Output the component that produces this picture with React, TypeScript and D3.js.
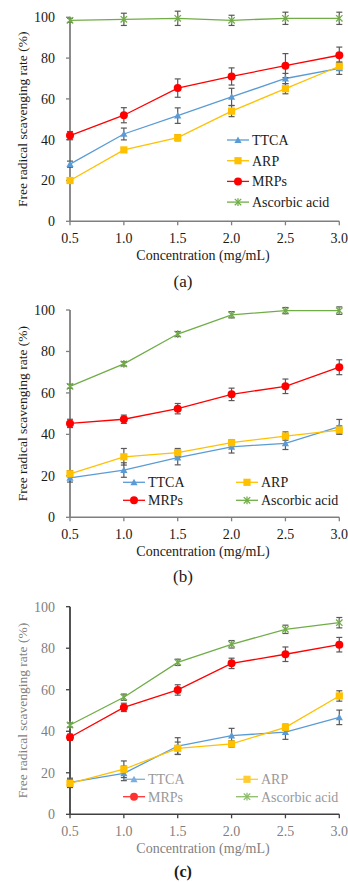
import React from "react";
import * as d3 from "d3";

const concentrations = [0.5, 1.0, 1.5, 2.0, 2.5, 3.0];
const xTickLabels = ["0.5", "1.0", "1.5", "2.0", "2.5", "3.0"];
const yTicks = [0, 20, 40, 60, 80, 100];
const seriesNames = ["TTCA", "ARP", "MRPs", "Ascorbic acid"];
const panelCaptions = ["(a)", "(b)", "(c)"];
const xTitle = "Concentration (mg/mL)";
const yTitle = "Free radical scavenging rate (%)";

// Panel (a)
const aTTCA = [28, 42.8, 51.8, 61, 70, 75];
const aTTCAErr = [1.5, 2.9, 3.8, 4.2, 2.5, 3];
const aARP = [20, 35, 41, 54, 65, 76];
const aARPErr = [1, 1, 1.5, 2.7, 2.5, 2];
const aMRPs = [42, 52, 65.3, 71, 76.3, 81.4];
const aMRPsErr = [2, 3.7, 4.5, 4.2, 5.9, 4];
const aAA = [98.5, 99, 99.5, 98.5, 99.5, 99.5];
const aAAErr = [1, 3, 3.5, 2.5, 3, 3];

// Panel (b)
const bTTCA = [19, 22.8, 28.8, 34, 35.7, 43.7];
const bTTCAErr = [2, 3.5, 3.5, 3, 3, 3.5];
const bARP = [21, 29.2, 31.2, 36, 39.2, 42.1];
const bARPErr = [1.5, 4, 2, 1.5, 2, 2];
const bMRPs = [45.3, 47.3, 52.4, 59.3, 63.2, 72.4];
const bMRPsErr = [2, 2, 2.5, 3, 3.5, 3.6];
const bAA = [63.2, 74, 88.4, 97.7, 99.7, 99.7];
const bAAErr = [1, 1, 1.2, 1.5, 1.5, 1.8];

// Panel (c)
const cTTCA = [15.4, 19.7, 32.9, 37.9, 39.6, 46.7];
const cTTCAErr = [2, 3.5, 4, 3.5, 3.5, 3.5];
const cARP = [14.9, 21.7, 31.8, 33.9, 41.9, 57];
const cARPErr = [2, 4, 3, 1.5, 1.5, 2.5];
const cMRPs = [37.1, 51.5, 59.9, 72.7, 77.1, 81.7];
const cMRPsErr = [1.5, 2, 2.5, 2.5, 3.5, 3.5];
const cAA = [43, 56.4, 73.2, 81.9, 89.1, 92.3];
const cAAErr = [1, 1.5, 1.5, 1.8, 2, 2.5];

const COLORS = ["#5B9BD5", "#FFC000", "#FF0000", "#70AD47"];
const FONT = "'Liberation Serif', 'Times New Roman', serif";

type Panel = {
  values: number[][];
  errs: number[][];
  y0: number;
  y100: number;
  textColor: string;
  axisColor: string;
  legend: { x: number; y: number }[];
  captionBold: boolean;
  captionColor: string;
  captionDy: number;
};

const panels: Panel[] = [
  {
    values: [aTTCA, aARP, aMRPs, aAA],
    errs: [aTTCAErr, aARPErr, aMRPsErr, aAAErr],
    y0: 221.3,
    y100: 17.3,
    textColor: "#1a1a1a",
    axisColor: "#7f7f7f",
    legend: [
      { x: 227, y: 140 },
      { x: 227, y: 160.7 },
      { x: 227, y: 181.4 },
      { x: 227, y: 202.1 },
    ],
    captionBold: false,
    captionColor: "#1a1a1a",
    captionDy: 66,
  },
  {
    values: [bTTCA, bARP, bMRPs, bAA],
    errs: [bTTCAErr, bARPErr, bMRPsErr, bAAErr],
    y0: 517.3,
    y100: 310,
    textColor: "#1a1a1a",
    axisColor: "#7f7f7f",
    legend: [
      { x: 123, y: 482.3 },
      { x: 236, y: 482.3 },
      { x: 123, y: 500.3 },
      { x: 236, y: 500.3 },
    ],
    captionBold: false,
    captionColor: "#1a1a1a",
    captionDy: 65,
  },
  {
    values: [cTTCA, cARP, cMRPs, cAA],
    errs: [cTTCAErr, cARPErr, cMRPsErr, cAAErr],
    y0: 814.3,
    y100: 606.7,
    textColor: "#7f7f7f",
    axisColor: "#404040",
    legend: [
      { x: 123, y: 779.3 },
      { x: 236, y: 779.3 },
      { x: 123, y: 796.7 },
      { x: 236, y: 796.7 },
    ],
    captionBold: true,
    captionColor: "#1a1a1a",
    captionDy: 62.5,
  },
];

function Marker({ kind, x, y, color }: { kind: number; x: number; y: number; color: string }) {
  if (kind === 0) {
    const s = 3.6;
    return (
      <path
        d={`M${x},${y - s} L${x + s},${y + s * 0.8} L${x - s},${y + s * 0.8} Z`}
        fill={color}
      />
    );
  }
  if (kind === 1) {
    const s = 3.6;
    return <rect x={x - s} y={y - s} width={2 * s} height={2 * s} fill={color} />;
  }
  if (kind === 2) {
    return <circle cx={x} cy={y} r={4} fill={color} />;
  }
  const s = 3.2;
  return (
    <g stroke={color} strokeWidth={1.3}>
      <line x1={x - s} y1={y - s} x2={x + s} y2={y + s} />
      <line x1={x - s} y1={y + s} x2={x + s} y2={y - s} />
      <line x1={x} y1={y - s * 1.2} x2={x} y2={y + s * 1.2} />
    </g>
  );
}

function PanelChart({ p, idx }: { p: Panel; idx: number }) {
  const x = d3.scaleLinear().domain([0.5, 3.0]).range([70, 339.3]);
  const y = d3.scaleLinear().domain([0, 100]).range([p.y0, p.y100]);
  const line = d3
    .line<number>()
    .x((_, i) => x(concentrations[i]))
    .y((d) => y(d));
  const errColor = "#595959";
  return (
    <g fontFamily={FONT}>
      {/* axes */}
      <line x1={x(0.5)} x2={x(3.0)} y1={y(0)} y2={y(0)} stroke={p.axisColor} strokeWidth={1.5} />
      <line x1={x(0.5)} x2={x(0.5)} y1={y(0)} y2={y(100)} stroke={p.axisColor} strokeWidth={1.8} />
      {yTicks.map((t) => (
        <g key={"yt" + t}>
          <line x1={x(0.5) - 4} x2={x(0.5)} y1={y(t)} y2={y(t)} stroke={p.axisColor} strokeWidth={1.3} />
          <text x={55} y={y(t) + 4.8} textAnchor="end" fontSize={14} fill={p.textColor}>
            {t}
          </text>
        </g>
      ))}
      {concentrations.map((c, i) => (
        <g key={"xt" + i}>
          <line x1={x(c)} x2={x(c)} y1={y(0)} y2={y(0) + 4} stroke={p.axisColor} strokeWidth={1.3} />
          <text x={x(c)} y={y(0) + 22} textAnchor="middle" fontSize={14} fill={p.textColor}>
            {xTickLabels[i]}
          </text>
        </g>
      ))}
      <text x={203} y={y(0) + 38.5} textAnchor="middle" fontSize={14} fill={p.textColor}>
        {xTitle}
      </text>
      <text
        transform={`translate(26.5, ${(y(0) + y(100)) / 2}) rotate(-90)`}
        textAnchor="middle"
        fontSize={13.5}
        fill={p.textColor}
      >
        {yTitle}
      </text>
      <text
        x={183}
        y={y(0) + p.captionDy}
        textAnchor="middle"
        fontSize={idx === 2 ? 16 : 17}
        fontWeight={p.captionBold ? "bold" : "normal"}
        fill={p.captionColor}
      >
        {panelCaptions[idx]}
      </text>
      {/* series lines */}
      {p.values.map((vals, si) => (
        <path key={"l" + si} d={line(vals) || ""} fill="none" stroke={COLORS[si]} strokeWidth={1.3} />
      ))}
      {/* error bars */}
      {p.values.map((vals, si) =>
        vals.map((v, i) => {
          const cx = x(concentrations[i]);
          const e = p.errs[si][i];
          const yt = y(v + e);
          const yb = y(v - e);
          return (
            <g key={"e" + si + "-" + i} stroke={errColor} strokeWidth={1.2}>
              <line x1={cx} x2={cx} y1={yt} y2={yb} />
              <line x1={cx - 3} x2={cx + 3} y1={yt} y2={yt} />
              <line x1={cx - 3} x2={cx + 3} y1={yb} y2={yb} />
            </g>
          );
        })
      )}
      {/* markers */}
      {p.values.map((vals, si) =>
        vals.map((v, i) => (
          <Marker key={"m" + si + "-" + i} kind={si} x={x(concentrations[i])} y={y(v)} color={COLORS[si]} />
        ))
      )}
      {/* legend */}
      {seriesNames.map((name, si) => {
        const L = p.legend[si];
        return (
          <g key={"lg" + si} opacity={idx === 2 ? 0.8 : 1}>
            <line x1={L.x} x2={L.x + 22} y1={L.y} y2={L.y} stroke={COLORS[si]} strokeWidth={1.3} />
            <Marker kind={si} x={L.x + 11} y={L.y} color={COLORS[si]} />
            <text x={L.x + 25} y={L.y + 4.8} fontSize={14} fill={p.textColor}>
              {name}
            </text>
          </g>
        );
      })}
    </g>
  );
}

export default function App() {
  return (
    <svg
      width={348}
      height={882}
      style={{ position: "absolute", left: 0, top: 0, background: "#ffffff" }}
    >
      <rect width={348} height={882} fill="#ffffff" />
      {panels.map((p, i) => (
        <PanelChart key={i} p={p} idx={i} />
      ))}
    </svg>
  );
}
